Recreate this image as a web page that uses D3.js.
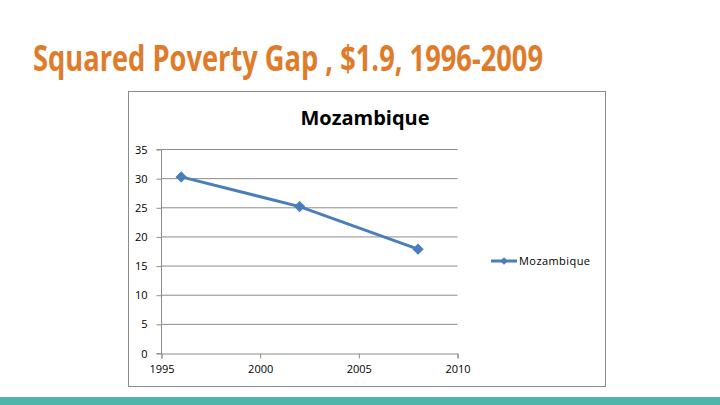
<!DOCTYPE html>
<html>
<head>
<meta charset="utf-8">
<script src="https://cdn.jsdelivr.net/npm/d3@7"></script>
<style>
  body { margin: 0; background: #fff; }
  svg { display: block; }
</style>
</head>
<body>
<div id="chart"></div>
<script>
// data
var years = [1996, 2002, 2008];
var gapValues = [30.3, 25.2, 17.9];
var xTicks = [1995, 2000, 2005, 2010];
var yTicks = [0, 5, 10, 15, 20, 25, 30, 35];
var seriesName = 'Mozambique';
var pageTitle = 'Squared Poverty Gap , $1.9, 1996-2009';

var W = 720, H = 405;
var svg = d3.select('#chart').append('svg')
        .attr('width', W)
        .attr('height', H);

// slide title
svg.append('text')
        .attr('x', 33)
        .attr('y', 71)
        .attr('font-family', '"Liberation Sans Narrow", "Open Sans", sans-serif')
        .attr('font-weight', 'bold')
        .attr('font-size', 35)
        .attr('fill', '#e07b2a')
        .attr('textLength', 510)
        .attr('lengthAdjust', 'spacingAndGlyphs')
        .text(pageTitle);

// bottom band
svg.append('rect')
        .attr('x', 0).attr('y', 397)
        .attr('width', W).attr('height', 8)
        .attr('fill', '#4fb5aa');

// chart frame
svg.append('rect')
        .attr('x', 128.5).attr('y', 91.5)
        .attr('width', 477).attr('height', 295)
        .attr('fill', '#fff')
        .attr('stroke', '#8a8a8a')
        .attr('stroke-width', 1);

svg.append('text')
        .attr('x', 365)
        .attr('y', 125)
        .attr('text-anchor', 'middle')
        .attr('font-family', '"Open Sans", "Liberation Sans", sans-serif')
        .attr('font-weight', 'bold')
        .attr('font-size', 20)
        .attr('fill', '#000')
        .text(seriesName);

var x = d3.scaleLinear().domain([1995, 2010]).range([161.5, 457.5]);
var y = d3.scaleLinear().domain([0, 35]).range([353.5, 149.5]);

var tickFont = '"Open Sans", "Liberation Sans", sans-serif';

// gridlines
svg.append('g')
        .selectAll('line')
        .data(yTicks.filter(function (d) { return d > 0; }))
        .enter().append('line')
        .attr('x1', x(1995)).attr('x2', x(2010))
        .attr('y1', function (d) { return y(d); })
        .attr('y2', function (d) { return y(d); })
        .attr('stroke', '#8c8c8c')
        .attr('stroke-width', 1);

// y axis
var yAxis = d3.axisLeft(y).tickValues(yTicks).tickSize(5).tickPadding(9);
var gy = svg.append('g')
        .attr('transform', 'translate(' + x(1995) + ',0)')
        .call(yAxis);

// x axis
var xAxis = d3.axisBottom(x).tickValues(xTicks).tickFormat(d3.format('d')).tickSize(5).tickPadding(7);
var gx = svg.append('g')
        .attr('transform', 'translate(0,' + y(0) + ')')
        .call(xAxis);

[gx, gy].forEach(function (g) {
    g.select('.domain').attr('stroke', '#8c8c8c');
    g.selectAll('.tick line').attr('stroke', '#8c8c8c');
    g.selectAll('.tick text')
            .attr('font-family', tickFont)
            .attr('font-size', 11)
            .attr('fill', '#000');
});
gy.select('.domain').attr('d', 'M-5,' + y(35) + 'H0V' + y(0) + 'H-5');

// series line
var data = years.map(function (yr, i) { return [yr, gapValues[i]]; });
var line = d3.line()
        .x(function (d) { return x(d[0]); })
        .y(function (d) { return y(d[1]); });

var blue = '#4a7ebb';
svg.append('path')
        .datum(data)
        .attr('d', line)
        .attr('fill', 'none')
        .attr('stroke', blue)
        .attr('stroke-width', 3);

var diamond = d3.symbol().type(d3.symbolSquare).size(50);
svg.append('g')
        .selectAll('path')
        .data(data)
        .enter().append('path')
        .attr('d', diamond)
        .attr('transform', function (d) { return 'translate(' + x(d[0]) + ',' + y(d[1]) + ') rotate(45)'; })
        .attr('fill', blue)
        .attr('stroke', blue)
        .attr('stroke-width', 1);

// legend
var lg = svg.append('g').attr('transform', 'translate(491,261)');
lg.append('line')
        .attr('x1', 0).attr('x2', 26)
        .attr('y1', 0).attr('y2', 0)
        .attr('stroke', blue)
        .attr('stroke-width', 3);
lg.append('path')
        .attr('d', d3.symbol().type(d3.symbolSquare).size(30))
        .attr('transform', 'translate(13,0) rotate(45)')
        .attr('fill', blue);
lg.append('text')
        .attr('x', 28)
        .attr('y', 4)
        .attr('font-family', tickFont)
        .attr('font-size', 11)
        .attr('fill', '#000')
        .attr('textLength', 71)
        .attr('lengthAdjust', 'spacing')
        .text(seriesName);
</script>
</body>
</html>
